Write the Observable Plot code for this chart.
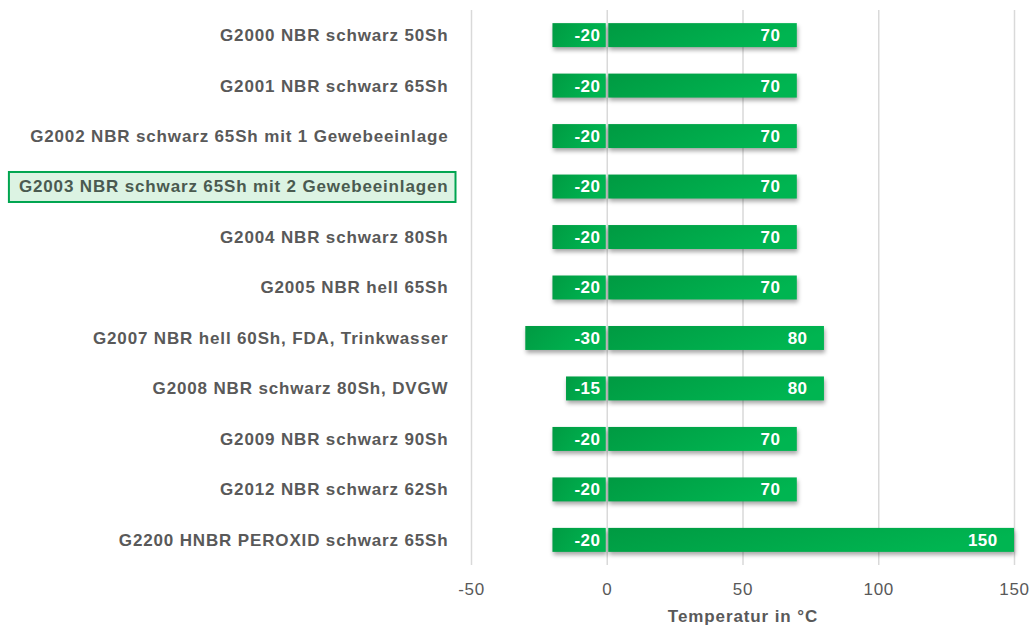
<!DOCTYPE html>
<html>
<head>
<meta charset="utf-8">
<script src="https://cdn.jsdelivr.net/npm/d3@7"></script>
<script src="https://cdn.jsdelivr.net/npm/@observablehq/plot@0.6"></script>
<style>
  html, body { margin: 0; padding: 0; background: #fff; }
  #chart svg { font-family: "Liberation Sans", Arial, sans-serif; }
</style>
</head>
<body>
<div id="chart"></div>
<script>
const materials = [
  "G2000 NBR schwarz 50Sh",
  "G2001 NBR schwarz 65Sh",
  "G2002 NBR schwarz 65Sh mit 1 Gewebeeinlage",
  "G2003 NBR schwarz 65Sh mit 2 Gewebeeinlagen",
  "G2004 NBR schwarz 80Sh",
  "G2005 NBR hell 65Sh",
  "G2007 NBR hell 60Sh, FDA, Trinkwasser",
  "G2008 NBR schwarz 80Sh, DVGW",
  "G2009 NBR schwarz 90Sh",
  "G2012 NBR schwarz 62Sh",
  "G2200 HNBR PEROXID schwarz 65Sh"
];
const minTemp = [-20, -20, -20, -20, -20, -20, -30, -15, -20, -20, -20];
const maxTemp = [70, 70, 70, 70, 70, 70, 80, 80, 70, 70, 150];
const xTicks = [-50, 0, 50, 100, 150];
const highlighted = "G2003 NBR schwarz 65Sh mit 2 Gewebeeinlagen";
const xLabel = "Temperatur in °C";

const data = materials.map((m, i) => ({name: m, min: minTemp[i], max: maxTemp[i]}));
const fmt = d => d < 0 ? "-" + Math.abs(d) : String(d);

const chart = Plot.plot({
  width: 1031,
  height: 626,
  marginTop: 10,
  marginBottom: 61,
  marginLeft: 471,
  marginRight: 17,
  style: {fontFamily: "Liberation Sans, Arial, sans-serif", fontSize: "17px", color: "#595959", background: "#fff"},
  x: {domain: [-50, 150], ticks: xTicks, tickFormat: fmt, label: null},
  y: {domain: materials, paddingInner: 0.525, paddingOuter: 0.26, round: false, label: null},
  marks: [
    Plot.ruleX(xTicks, {stroke: "#d9d9d9", strokeWidth: 1.5}),
    Plot.barX(data, {y: "name", x1: "min", x2: 0, insetRight: 1, fill: "url(#barGrad)"}),
    Plot.barX(data, {y: "name", x1: 0, x2: "max", insetLeft: 1.5, fill: "url(#barGrad)"}),
    Plot.text(data, {y: "name", x: 0, text: d => fmt(d.min), textAnchor: "end", dx: -7, fill: "white", fontWeight: "bold", fontSize: 17, className: "vlabel"}),
    Plot.text(data, {y: "name", x: "max", text: d => fmt(d.max), textAnchor: "end", dx: -17, fill: "white", fontWeight: "bold", fontSize: 17, className: "vlabel"}),
    Plot.axisX({ticks: xTicks, tickSize: 0, tickPadding: 17, fill: "#595959", fontSize: 17, label: null, tickFormat: fmt}),
    Plot.axisY({tickSize: 0, tickPadding: 23, fontWeight: "bold", fontSize: 17, fill: "#595959", label: null}),
    Plot.text([xLabel], {frameAnchor: "bottom", dy: 56, fill: "#595959", fontWeight: "bold", fontSize: 17})
  ]
});

const ns = "http://www.w3.org/2000/svg";
const defs = document.createElementNS(ns, "defs");
defs.innerHTML = `<linearGradient id="barGrad" x1="0" y1="0" x2="1" y2="0.3">
  <stop offset="0" stop-color="#009a42"/>
  <stop offset="1" stop-color="#00b551"/>
</linearGradient>`;
chart.insertBefore(defs, chart.firstChild);

chart.querySelectorAll('g[aria-label="bar"]').forEach(g => {
  g.style.filter = "drop-shadow(1px 3px 2px rgba(0,0,0,0.35))";
});

const spacing = (sel, v) => chart.querySelectorAll(sel).forEach(g => g.style.letterSpacing = v);
spacing('g[aria-label="y-axis tick label"]', "0.85px");
spacing('g[aria-label="x-axis tick label"]', "0.7px");
spacing('g[aria-label="text"]', "0.9px");
spacing('g.vlabel', "0.4px");

document.getElementById("chart").appendChild(chart);

// Highlight box around one y-axis label
const yAxis = chart.querySelector('g[aria-label="y-axis tick label"]');
if (yAxis) {
  yAxis.querySelectorAll("text").forEach(t => {
    if (t.textContent === highlighted) {
      t.setAttribute("fill", "#4a5a50");
      const bb = t.getBBox();
      const tr = t.getAttribute("transform");
      const r = document.createElementNS(ns, "rect");
      r.setAttribute("x", bb.x - 10);
      r.setAttribute("y", bb.y - 5.5);
      r.setAttribute("width", bb.width + 17);
      r.setAttribute("height", bb.height + 11);
      r.setAttribute("fill", "#dcf3e3");
      r.setAttribute("stroke", "#00a550");
      r.setAttribute("stroke-width", 2);
      if (tr) r.setAttribute("transform", tr);
      t.parentNode.insertBefore(r, t);
    }
  });
}
</script>
</body>
</html>
